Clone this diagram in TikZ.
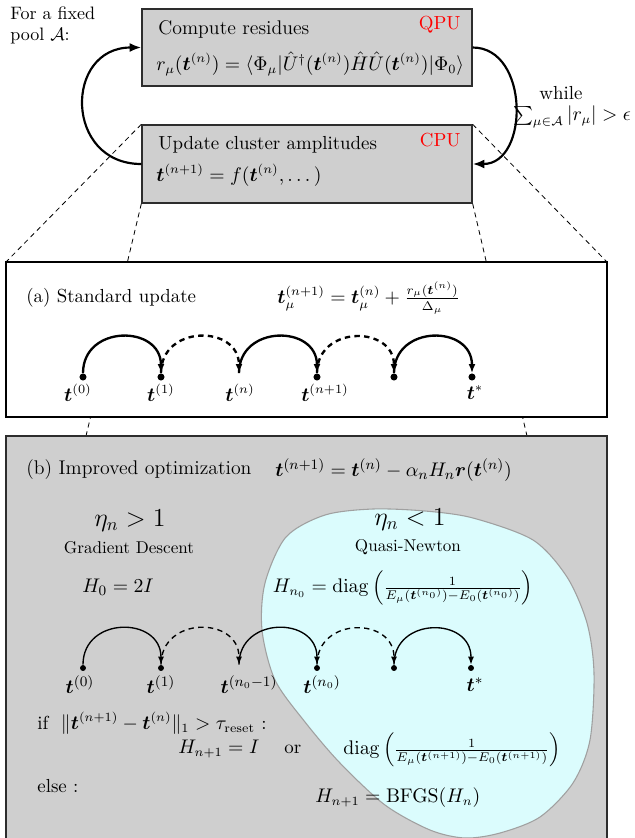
\documentclass[tikz,border=0pt]{standalone}
\usepackage{amsmath,amssymb}
\usetikzlibrary{arrows.meta}
\definecolor{boxgray}{RGB}{207,207,207}
\definecolor{boxedge}{RGB}{45,45,45}
\definecolor{blobfill}{RGB}{219,252,253}
\definecolor{blobedge}{RGB}{160,160,160}
\newcommand{\bvt}{\boldsymbol{t}}
\begin{document}
\begin{tikzpicture}[x=0.5556pt, y=-0.5556pt,
  font=\fontsize{10.5}{12.6}\selectfont,
  topbox/.style={draw=boxedge, fill=boxgray, line width=0.8pt, minimum width=183.3pt, inner sep=0pt},
  loopar/.style={line width=1.2pt, -{Latex[length=6.5pt,width=5pt]}},
  zoomln/.style={line width=0.45pt, dash pattern=on 2.8pt off 2.2pt},
  dota/.style={circle, fill=black, inner sep=0pt, minimum size=3.9pt},
  nodota/.style={circle, inner sep=0pt, minimum size=3.9pt},
  dotb/.style={circle, fill=black, inner sep=0pt, minimum size=3.3pt},
  nodotb/.style={circle, inner sep=0pt, minimum size=3.3pt},
  hopa/.style={line width=1.3pt, -{Latex[length=5pt,width=3.8pt]}},
  hopb/.style={line width=0.75pt, -{Latex[length=4.5pt,width=3.4pt]}},
  dsh/.style={dash pattern=on 3pt off 2.4pt},
  txt/.style={inner sep=0pt, anchor=west},
  lab/.style={inner sep=0pt},
  bsize/.style={font=\fontsize{11}{13}\selectfont},
]
\useasboundingbox (0,0) rectangle (635,838);

% top boxes
\node[topbox, minimum height=42.8pt] (qpu) at (307,47.5) {};
\node[topbox, minimum height=43.3pt] (cpu) at (307,164) {};

% zoom lines
\coordinate (panw) at (6,262);
\coordinate (pane) at (607,262);
\coordinate (pbl) at (86,436);
\coordinate (pbr) at (527,436);
\draw[zoomln] (cpu.north west) -- (panw);
\draw[zoomln] (cpu.north east) -- (pane);
\draw[zoomln] (cpu.south west) -- (pbl);
\draw[zoomln] (cpu.south east) -- (pbr);

% top texts
\node[anchor=north west, align=left, inner sep=0pt, font=\fontsize{10}{12}\selectfont] (pool) at (10,6) {For a fixed\\pool $\mathcal{A}$:};
\node[txt, font=\fontsize{11}{13}\selectfont] (qpuhead) at (158,29) {Compute residues};
\node[txt] (qpufor) at (156,64) {$r_\mu(\bvt^{(n)}) = \langle\Phi_\mu|\hat U^\dagger(\bvt^{(n)})\hat H\hat U(\bvt^{(n)})|\Phi_0\rangle$};
\node[anchor=east, text=red, inner sep=0pt] (qpulab) at (461,25) {QPU};
\node[txt] (cpuhead) at (158,145) {Update cluster amplitudes};
\node[txt] (cpufor) at (156,175) {$\bvt^{(n+1)} = f(\bvt^{(n)},\dots)$};
\node[anchor=east, text=red, inner sep=0pt] (cpulab) at (461,140) {CPU};
\node[inner sep=0pt] (wh) at (561,93) {while};
\node[inner sep=0pt] (cond) at (572,117) {$\sum_{\mu\in\mathcal{A}}|r_\mu|>\epsilon$};

\draw[loopar] (cpu.west) to[out=180,in=180,looseness=1.7] (qpu.west);
\draw[loopar] (qpu.east) to[out=0,in=0,looseness=1.25] (cpu.east);

% panel (a)
\node[draw=black, fill=white, line width=0.8pt, minimum width=333.9pt, minimum height=86.1pt, inner sep=0pt] (pa) at (306.5,339.5) {};
\node[txt] (ahead) at (26,298) {(a) Standard update};
\node[txt] (aform) at (277,298) {$\bvt_\mu^{(n+1)} = \bvt_\mu^{(n)} + \frac{r_\mu(\bvt^{(n)})}{\Delta_\mu}$};

\node[dota] (a1) at (83,377) {};
\node[dota] (a2) at (161,377) {};
\node[nodota] (a3) at (239,377) {};
\node[dota] (a4) at (317,377) {};
\node[dota] (a5) at (394,377) {};
\node[dota] (a6) at (472,377) {};
\draw[hopa] (a1) to[out=90,in=90,looseness=1.6] (a2);
\draw[hopa,dsh] (a2) to[out=90,in=90,looseness=1.6] (a3);
\draw[hopa] (a3) to[out=90,in=90,looseness=1.6] (a4);
\draw[hopa,dsh] (a4) to[out=90,in=90,looseness=1.6] (a5);
\draw[hopa] (a5) to[out=90,in=90,looseness=1.6] (a6);
\node[lab] (la1) at (78,393) {$\bvt^{(0)}$};
\node[lab] (la2) at (161,393) {$\bvt^{(1)}$};
\node[lab] (la3) at (240,393) {$\bvt^{(n)}$};
\node[lab] (la4) at (325,393) {$\bvt^{(n+1)}$};
\node[lab] (la6) at (475,393) {$\bvt^{*}$};

% panel (b)
\node[draw=boxedge, fill=boxgray, line width=0.8pt, minimum width=333.9pt, minimum height=227.2pt, inner sep=0pt] (pb) at (306.5,640.5) {};
\draw[blobedge, fill=blobfill, line width=0.6pt] plot[smooth cycle] coordinates {
  (373,509) (425,511) (473,518) (533,540) (567,577) (587,623) (594,673)
  (590,740) (573,783) (540,817) (500,833) (465,838) (430,830) (385,805)
  (340,763) (305,722) (275,680) (262,630) (265,583) (286,537) (325,515)};

\node[txt, bsize] (bhead) at (26,470) {(b) Improved optimization};
\node[txt, bsize] (bform) at (275,470) {$\bvt^{(n+1)} = \bvt^{(n)} - \alpha_n H_n\boldsymbol{r}(\bvt^{(n)})$};
\node[lab, font=\fontsize{14}{16}\selectfont] (eta1) at (130,521) {$\eta_n > 1$};
\node[lab, font=\fontsize{9.5}{11}\selectfont] (gd) at (129,548) {Gradient Descent};
\node[lab, font=\fontsize{11}{13}\selectfont] (h0) at (118,587) {$H_0 = 2I$};
\node[lab, font=\fontsize{14}{16}\selectfont] (eta2) at (410,520) {$\eta_n < 1$};
\node[lab, font=\fontsize{9.5}{11}\selectfont] (qn) at (408,547) {Quasi-Newton};
\node[lab, font=\fontsize{10.6}{12.6}\selectfont] (hn0) at (403,588) {$H_{n_0} = \operatorname{diag}\left(\frac{1}{E_\mu(\bvt^{(n_0)})-E_0(\bvt^{(n_0)})}\right)$};

\node[dotb] (b1) at (83,668) {};
\node[dotb] (b2) at (161,668) {};
\node[nodotb] (b3) at (239,668) {};
\node[dotb] (b4) at (317,668) {};
\node[dotb] (b5) at (394,668) {};
\node[dotb] (b6) at (471,668) {};
\draw[hopb] (b1) to[out=90,in=90,looseness=1.6] (b2);
\draw[hopb,dsh] (b2) to[out=90,in=90,looseness=1.6] (b3);
\draw[hopb] (b3) to[out=90,in=90,looseness=1.6] (b4);
\draw[hopb,dsh] (b4) to[out=90,in=90,looseness=1.6] (b5);
\draw[hopb] (b5) to[out=90,in=90,looseness=1.6] (b6);
\node[lab, bsize] (lb1) at (80,685) {$\bvt^{(0)}$};
\node[lab, bsize] (lb2) at (161,685) {$\bvt^{(1)}$};
\node[lab, bsize] (lb3) at (249,685) {$\bvt^{(n_0-1)}$};
\node[lab, bsize] (lb4) at (322,685) {$\bvt^{(n_0)}$};
\node[lab, bsize] (lb6) at (475,685) {$\bvt^{*}$};

\node[txt] (ifl) at (37,723) {if\ \ $\|\bvt^{(n+1)}-\bvt^{(n)}\|_1 > \tau_{\mathrm{reset}}$ :};
\node[txt] (hi) at (178,749) {$H_{n+1} = I$\quad\ or};
\node[txt] (hdiag) at (343,750) {$\operatorname{diag}\left(\frac{1}{E_\mu(\bvt^{(n+1)})-E_0(\bvt^{(n+1)})}\right)$};
\node[txt] (els) at (37,786) {else :};
\node[txt] (bfgs) at (315,798) {$H_{n+1} = \mathrm{BFGS}(H_n)$};
\end{tikzpicture}
\end{document}
